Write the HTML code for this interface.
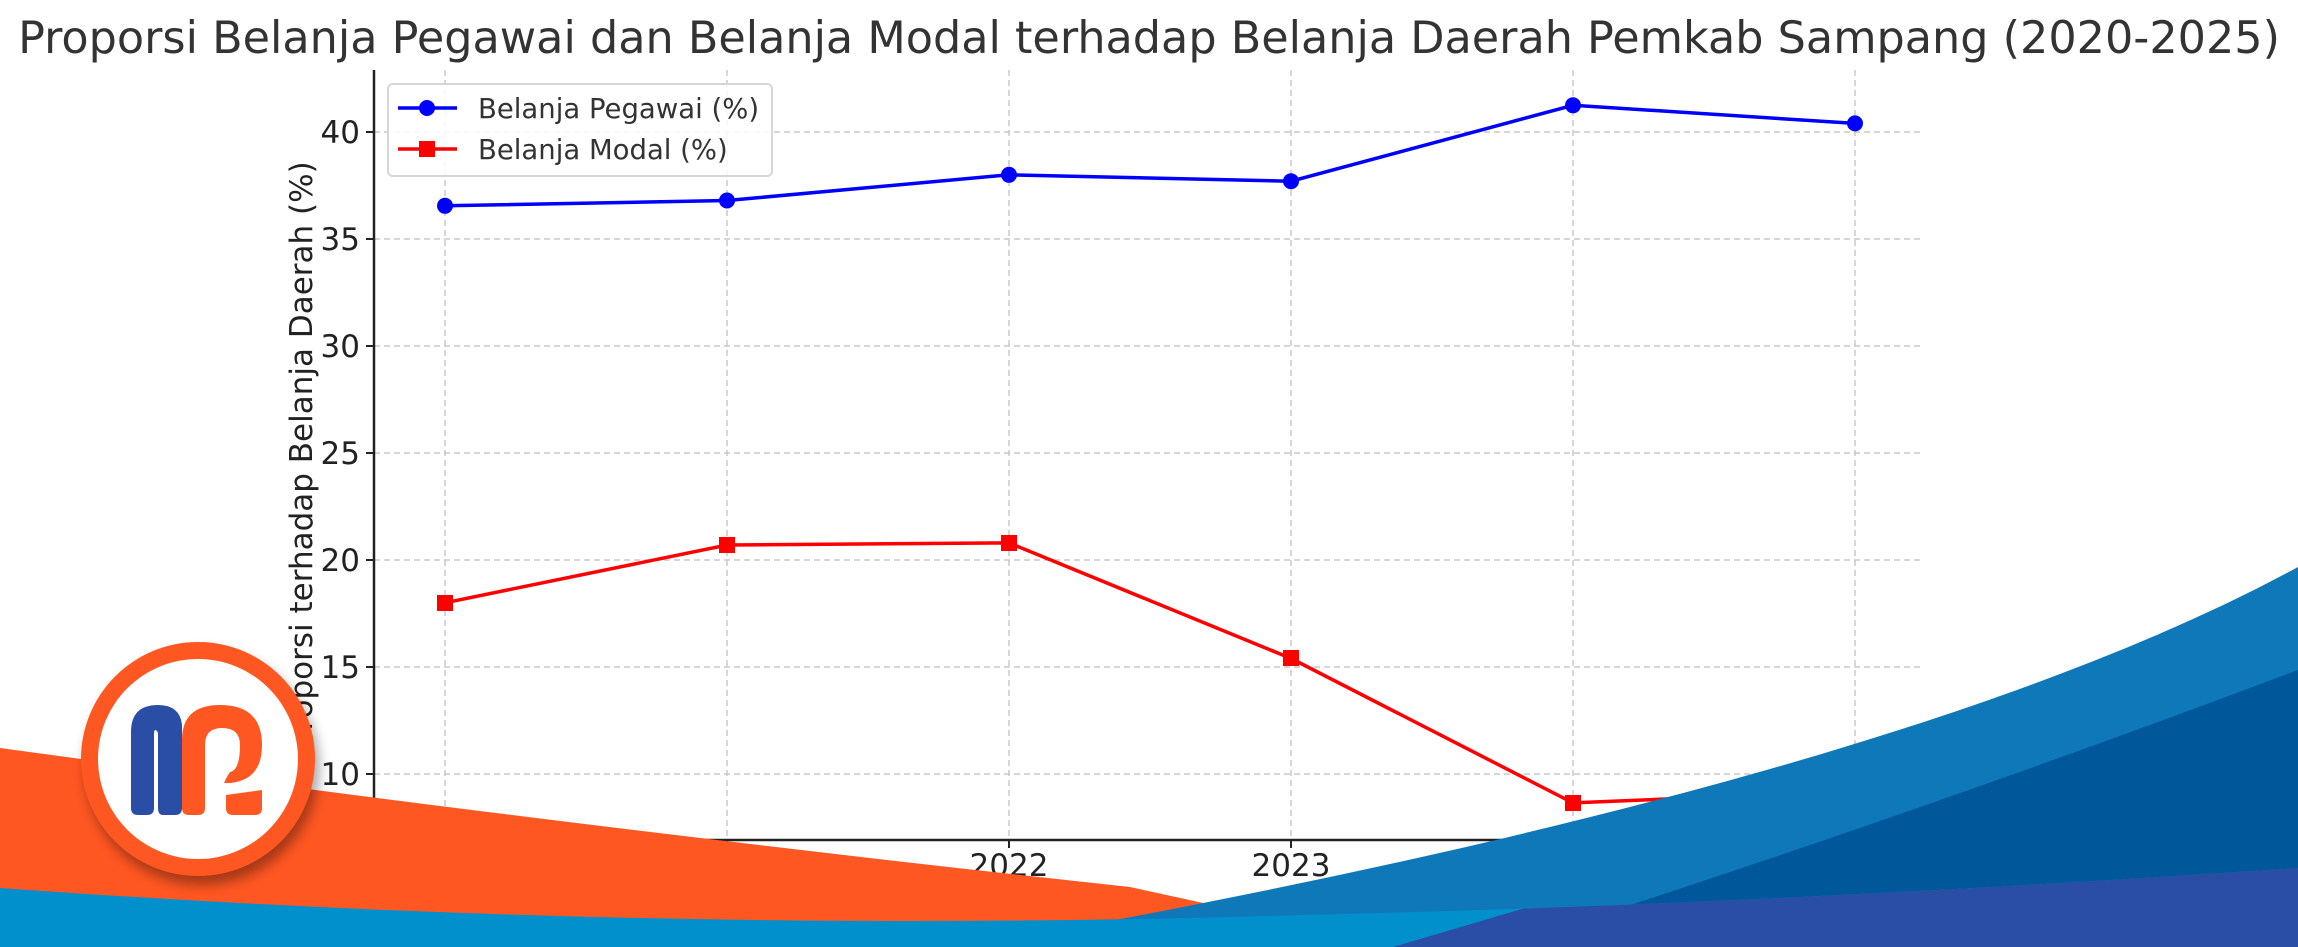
<!DOCTYPE html>
<html><head><meta charset="utf-8"><style>
html,body{margin:0;padding:0;background:#fff;}
svg{display:block;}
text{font-family:"DejaVu Sans","Liberation Sans",sans-serif;}
</style></head><body>
<svg width="2298" height="947" viewBox="0 0 2298 947" xmlns="http://www.w3.org/2000/svg">
<defs>
<clipPath id="band"><path d="M0,888 Q650,935 1300,915 Q1750,905 2298,868 L2298,947 L0,947 Z"/></clipPath>
<filter id="sh" x="-30%" y="-30%" width="160%" height="160%"><feGaussianBlur stdDeviation="6"/></filter>
</defs>
<text x="1149" y="53" font-size="44.5" fill="#333" text-anchor="middle">Proporsi Belanja Pegawai dan Belanja Modal terhadap Belanja Daerah Pemkab Sampang (2020-2025)</text>
<!-- grid -->
<g stroke="#c8c8c8" stroke-width="1.5" stroke-dasharray="6,4">
<line x1="374" x2="1924" y1="132" y2="132"/><line x1="374" x2="1924" y1="239" y2="239"/>
<line x1="374" x2="1924" y1="346" y2="346"/><line x1="374" x2="1924" y1="453" y2="453"/>
<line x1="374" x2="1924" y1="560" y2="560"/><line x1="374" x2="1924" y1="667" y2="667"/>
<line x1="374" x2="1924" y1="774" y2="774"/>
<line x1="445" x2="445" y1="70" y2="840"/><line x1="727" x2="727" y1="70" y2="840"/>
<line x1="1009" x2="1009" y1="70" y2="840"/><line x1="1291" x2="1291" y1="70" y2="840"/>
<line x1="1573" x2="1573" y1="70" y2="840"/><line x1="1855" x2="1855" y1="70" y2="840"/>
</g>
<g stroke="#222" stroke-width="2.5">
<line x1="374" x2="374" y1="70" y2="841"/><line x1="373" x2="1924" y1="840" y2="840"/>
<g stroke-width="2">
<line x1="366" x2="374" y1="132" y2="132"/><line x1="366" x2="374" y1="239" y2="239"/>
<line x1="366" x2="374" y1="346" y2="346"/><line x1="366" x2="374" y1="453" y2="453"/>
<line x1="366" x2="374" y1="560" y2="560"/><line x1="366" x2="374" y1="667" y2="667"/>
<line x1="366" x2="374" y1="774" y2="774"/>
<line x1="445" x2="445" y1="840" y2="848"/><line x1="727" x2="727" y1="840" y2="848"/>
<line x1="1009" x2="1009" y1="840" y2="848"/><line x1="1291" x2="1291" y1="840" y2="848"/>
<line x1="1573" x2="1573" y1="840" y2="848"/><line x1="1855" x2="1855" y1="840" y2="848"/>
</g></g>
<g font-size="31" fill="#222" text-anchor="end">
<text x="360" y="143">40</text><text x="360" y="250">35</text><text x="360" y="357">30</text>
<text x="360" y="464">25</text><text x="360" y="571">20</text><text x="360" y="678">15</text>
<text x="360" y="785">10</text>
</g>
<g font-size="31" fill="#222" text-anchor="middle">
<text x="445" y="876">2020</text><text x="727" y="876">2021</text><text x="1009" y="876">2022</text>
<text x="1291" y="876">2023</text><text x="1573" y="876">2024</text><text x="1855" y="876">2025</text>
</g>
<text transform="translate(312,455) rotate(-90)" font-size="31" fill="#222" text-anchor="middle">Proporsi terhadap Belanja Daerah (%)</text>
<!-- series -->
<polyline fill="none" stroke="#0000ff" stroke-width="3.5" points="445,205.8 727,200.5 1009,174.8 1291,181.2 1573,105.3 1855,123.4"/>
<g fill="#0000ff"><circle cx="445" cy="205.8" r="8"/><circle cx="727" cy="200.5" r="8"/><circle cx="1009" cy="174.8" r="8"/><circle cx="1291" cy="181.2" r="8"/><circle cx="1573" cy="105.3" r="8"/><circle cx="1855" cy="123.4" r="8"/></g>
<polyline fill="none" stroke="#ff0000" stroke-width="3.5" points="445,602.8 727,545 1009,542.9 1291,658.4 1573,802.9 1855,791"/>
<g fill="#ff0000"><rect x="437" y="595" width="16" height="16"/><rect x="719" y="537" width="16" height="16"/><rect x="1001" y="535" width="16" height="16"/><rect x="1283" y="650" width="16" height="16"/><rect x="1565" y="795" width="16" height="16"/><rect x="1847" y="783" width="16" height="16"/></g>
<!-- legend -->
<rect x="388" y="84" width="384" height="92" rx="5" fill="#fff" fill-opacity="0.85" stroke="#d6d6d6" stroke-width="2"/>
<line x1="398" x2="457" y1="108" y2="108" stroke="#0000ff" stroke-width="3.5"/><circle cx="427" cy="108" r="8" fill="#0000ff"/>
<line x1="398" x2="457" y1="149" y2="149" stroke="#ff0000" stroke-width="3.5"/><rect x="419" y="141" width="16" height="16" fill="#ff0000"/>
<g font-size="27.5" fill="#333"><text x="478" y="118">Belanja Pegawai (%)</text><text x="478" y="159">Belanja Modal (%)</text></g>
<!-- overlay waves -->
<path d="M0,748 Q600,830 1130,887 L1350,935 L1350,947 L0,947 Z" fill="#ff5722"/>
<path d="M800,975 C1450,870 1990,735 2298,567 L2298,947 Z" fill="#0f78b9"/>
<path d="M1500,947 Q1900,820 2298,670 L2298,947 Z" fill="#00589a"/>
<path d="M0,888 Q650,935 1300,915 Q1750,905 2298,868 L2298,947 L0,947 Z" fill="#0290cc"/>
<g clip-path="url(#band)"><path d="M1393,947 L1620,880 L2298,840 L2298,947 Z" fill="#2a4ea6"/></g>
<!-- logo -->
<circle cx="202" cy="768" r="117" fill="#000" opacity="0.35" filter="url(#sh)"/>
<circle cx="198" cy="759" r="117" fill="#ff5722"/>
<circle cx="198" cy="759" r="100" fill="#fff"/>
<path d="M131,808 L131,732 Q131,705 158,705 Q180,705 182,725 L182,808 Q182,815 175,815 L163,815 Q158,815 158,808 L158,735 Q158,730 155,730 Q154,730 154,735 L154,808 Q154,815 147,815 L138,815 Q131,815 131,808 Z" fill="#2a4ea6"/>
<path d="M182,808 L182,740 Q182,705 220,705 Q262,705 262,745 Q262,780 230,783 L224,783 Q226,778 230,772 Q240,770 240,745 Q240,728 222,728 Q205,728 205,745 L205,808 Q205,815 198,815 L189,815 Q182,815 182,808 Z" fill="#ff5722"/>
<path d="M226,795 L262,790 L262,808 Q262,815 255,815 L233,815 Q226,815 226,808 Z" fill="#ff5722"/>
</svg>
</body></html>
